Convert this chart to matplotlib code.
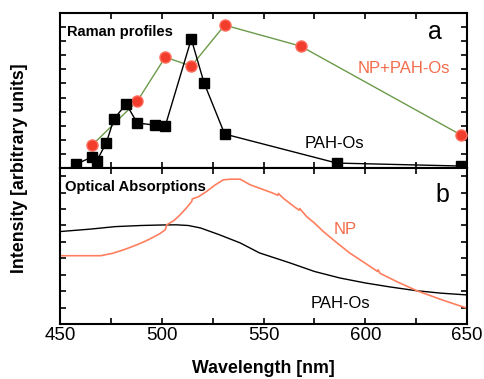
import matplotlib
matplotlib.use('Agg')
import matplotlib.pyplot as plt

plt.rcParams['font.family'] = ['Liberation Sans', 'DejaVu Sans']

# Raman profiles (panel a)
pah_wl = [457.9, 465.8, 468.0, 472.7, 476.5, 482.5, 488.0, 496.5, 501.7, 514.5, 520.8, 530.9, 586.0, 647.1]
pah_int = [0.28, 0.78, 0.50, 1.77, 3.48, 4.54, 3.19, 3.05, 2.98, 9.15, 6.03, 2.41, 0.35, 0.14]

np_wl = [465.8, 488.0, 501.7, 514.5, 530.9, 568.2, 647.1]
np_int = [1.63, 4.75, 7.87, 7.23, 10.14, 8.65, 2.34]

# Optical absorptions (panel b)
abs_pah_wl = [450, 465, 477, 490, 500, 507, 513, 519, 528, 538.5, 548, 563, 575, 587.6, 600, 612, 625, 637, 650]
abs_pah = [5.63, 5.78, 5.93, 6.00, 6.03, 6.04, 6.00, 5.85, 5.45, 4.94, 4.33, 3.72, 3.20, 2.80, 2.50, 2.26, 2.03, 1.88, 1.77]

abs_np_wl = [450, 460, 470, 476, 482, 487.7, 492, 495.9, 499, 501.6, 502.0, 502.4, 506, 509, 512, 514.7, 515.0, 518, 522,
             526, 530.2, 534, 538.5, 543.4, 548, 554, 557.0, 557.3, 559.7, 565, 567.5, 567.8, 571.2, 575, 579.4, 586,
             592.5, 600, 606.0, 606.3, 607.2, 616, 625.3, 637, 650]
abs_np = [4.16, 4.16, 4.16, 4.31, 4.55, 4.82, 5.05, 5.29, 5.50, 5.73, 5.85, 6.04, 6.30, 6.65, 7.05, 7.46, 7.62, 7.75, 8.07,
          8.45, 8.78, 8.82, 8.82, 8.48, 8.27, 8.00, 7.84, 7.95, 7.66, 7.15, 6.93, 7.03, 6.54, 6.15, 5.63, 4.95,
          4.31, 3.70, 3.20, 3.30, 3.09, 2.55, 2.03, 1.50, 0.96]

fig = plt.figure(figsize=(4.84, 3.79), dpi=100)
ax1 = fig.add_axes([0.124, 0.5567, 0.841, 0.409])
ax2 = fig.add_axes([0.124, 0.1451, 0.841, 0.4116])

for ax in (ax1, ax2):
    ax.set_xlim(450, 650)
    ax.set_xticks([450, 500, 550, 600, 650])
    ax.set_xticks([475, 525, 575, 625], minor=True)
    ax.tick_params(which='both', direction='in', top=True, right=True, length=4, width=1.2)
    for s in ax.spines.values():
        s.set_linewidth(1.5)

ax1.plot(np_wl, np_int, '-', color='#6b9a4a', lw=1, zorder=2)
ax1.plot(np_wl, np_int, 'o', color='#f23c2c', mec='#ff7060', ms=8, zorder=3)
ax1.plot(pah_wl, pah_int, '-', color='black', lw=1, zorder=4)
ax1.plot(pah_wl, pah_int, 's', color='black', ms=7, mec='black', zorder=5)
ax1.set_ylim(0, 11)
ax1.set_yticks(range(1, 11))
ax1.set_yticklabels([])
ax1.set_xticklabels([])
ax1.text(0.018, 0.85, 'Raman profiles', transform=ax1.transAxes, fontsize=10.5, fontweight='bold')
ax1.text(0.905, 0.83, 'a', transform=ax1.transAxes, fontsize=18)
ax1.text(0.845, 0.615, 'NP+PAH-Os', transform=ax1.transAxes, fontsize=12, color='#f26b4a', ha='center')
ax1.text(0.675, 0.13, 'PAH-Os', transform=ax1.transAxes, fontsize=12, color='black', ha='center')

ax2.plot(abs_pah_wl, abs_pah, '-', color='black', lw=1)
ax2.plot(abs_np_wl, abs_np, '-', color='#ff7f5f', lw=1.2)
ax2.set_ylim(0, 9.5)
ax2.set_yticks(range(1, 10))
ax2.set_yticklabels([])
ax2.tick_params(axis='x', labelsize=13.5, pad=2)
ax2.text(0.012, 0.85, 'Optical Absorptions', transform=ax2.transAxes, fontsize=10.7, fontweight='bold')
ax2.text(0.922, 0.78, 'b', transform=ax2.transAxes, fontsize=18)
ax2.text(0.7, 0.58, 'NP', transform=ax2.transAxes, fontsize=12, color='#f26b4a', ha='center')
ax2.text(0.69, 0.1, 'PAH-Os', transform=ax2.transAxes, fontsize=12, color='black', ha='center')
ax2.set_xlabel('Wavelength [nm]', fontsize=12.8, fontweight='bold', labelpad=12)

fig.text(0.04, 0.555, 'Intensity [arbitrary units]', rotation=90, fontsize=12.8, fontweight='bold',
         ha='center', va='center')

fig.savefig('out.png', dpi=100)
